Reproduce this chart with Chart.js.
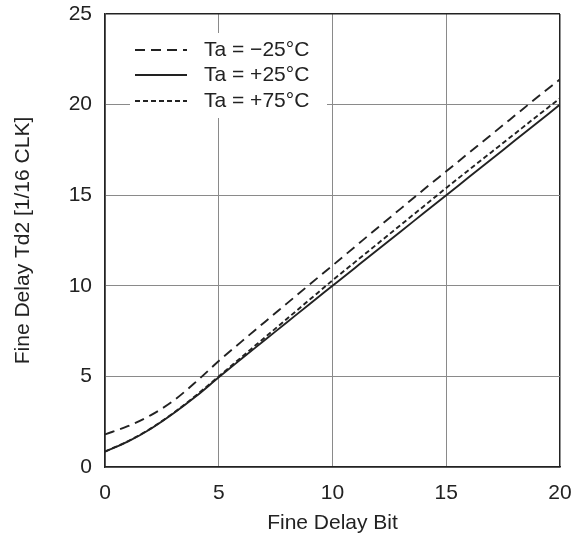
<!DOCTYPE html>
<html>
<head>
<meta charset="utf-8">
<script src="https://cdn.jsdelivr.net/npm/chart.js@4"></script>
<style>
html,body{margin:0;padding:0;background:#fff;}
#wrap{width:585px;height:536px;position:relative;}
</style>
</head>
<body>
<div id="wrap"><canvas id="c" width="585" height="536"></canvas></div>
<script>
const bits = [0,1,2,3,4,5,6,7,8,9,10,11,12,13,14,15,16,17,18,19,20];
const tMinus25 = [1.8,2.25,2.85,3.65,4.7,5.85,6.92,7.98,9.03,10.08,11.12,12.17,13.22,14.26,15.3,16.32,17.34,18.36,19.38,20.4,21.4];
const tPlus25  = [0.85,1.4,2.1,2.95,3.9,4.95,5.97,6.98,7.99,9.0,10.0,11.0,12.0,13.0,14.0,15.0,16.0,17.0,18.0,19.0,20.0];
const tPlus75  = [0.85,1.42,2.12,2.97,3.95,5.0,6.06,7.12,8.18,9.24,10.3,11.32,12.34,13.36,14.38,15.4,16.4,17.39,18.38,19.37,20.35];
const seriesLabels = ['Ta = \u221225\u00b0C','Ta = +25\u00b0C','Ta = +75\u00b0C'];
const xTicks = [0,5,10,15,20];
const yTicks = [0,5,10,15,20,25];

const FONT = "'Liberation Sans', Arial, sans-serif";
const INK = '#222';
const FS = 21;

function pts(arr){ return bits.map((b,i)=>({x:b,y:arr[i]})); }

const dashes = [[10,6],[],[5,3]];
const datasets = [tMinus25,tPlus25,tPlus75].map((arr,i)=>({
  label: seriesLabels[i],
  data: pts(arr),
  borderColor: INK,
  borderWidth: 1.9,
  borderDash: dashes[i],
  pointRadius: 0,
  fill: false,
  cubicInterpolationMode: 'monotone'
}));

const legendPlugin = {
  id: 'inlegend',
  beforeDatasetsDraw(chart){
    const ctx = chart.ctx;
    ctx.save();
    ctx.fillStyle = '#fff';
    ctx.fillRect(130, 33, 197, 85);
    const rows = [50, 75, 101];
    chart.data.datasets.forEach((ds,i)=>{
      ctx.beginPath();
      ctx.strokeStyle = INK;
      ctx.lineWidth = 1.9;
      ctx.setLineDash(ds.borderDash);
      ctx.moveTo(135, rows[i]);
      ctx.lineTo(187, rows[i]);
      ctx.stroke();
      ctx.setLineDash([]);
      ctx.fillStyle = INK;
      ctx.font = FS + 'px ' + FONT;
      ctx.textBaseline = 'middle';
      ctx.textAlign = 'left';
      ctx.fillText(ds.label, 204, rows[i] + 0.5);
    });
    ctx.restore();
  }
};

const gridColor = (ctx, max) => {
  const v = ctx.tick && ctx.tick.value;
  return (v === max) ? INK : '#8a8a8a';
};

new Chart(document.getElementById('c'), {
  type: 'line',
  data: { datasets },
  options: {
    responsive: false,
    animation: false,
    devicePixelRatio: 1,
    layout: { padding: { top: 14, right: 25, left: 0, bottom: 0 } },
    plugins: { legend: { display: false }, tooltip: { enabled: false } },
    scales: {
      x: {
        type: 'linear', min: 0, max: 20,
        afterBuildTicks: s => { s.ticks = xTicks.map(v=>({value:v})); },
        afterFit: s => { s.height = 69; s.paddingLeft = 0; s.paddingRight = 0; },
        ticks: { color: INK, font: { family: FONT, size: FS }, padding: 14 },
        grid: { drawTicks: false, color: c => gridColor(c, 20), lineWidth: c => (c.tick && c.tick.value===20)?1.5:1 },
        border: { display: true, color: INK, width: 1.5 },
        title: { display: true, text: 'Fine Delay Bit', color: INK, font: { family: FONT, size: FS }, padding: { top: 0, bottom: 0 } }
      },
      y: {
        type: 'linear', min: 0, max: 25,
        afterBuildTicks: s => { s.ticks = yTicks.map(v=>({value:v})); },
        afterFit: s => { s.width = 105; s.paddingTop = 0; s.paddingBottom = 0; },
        ticks: { color: INK, font: { family: FONT, size: FS }, padding: 13 },
        grid: { drawTicks: false, color: c => gridColor(c, 25), lineWidth: c => (c.tick && c.tick.value===25)?1.5:1 },
        border: { display: true, color: INK, width: 1.5 },
        title: { display: true, text: 'Fine Delay Td2 [1/16 CLK]', color: INK, font: { family: FONT, size: FS }, padding: { top: 11, bottom: 0 } }
      }
    }
  },
  plugins: [legendPlugin]
});
</script>
</body>
</html>
